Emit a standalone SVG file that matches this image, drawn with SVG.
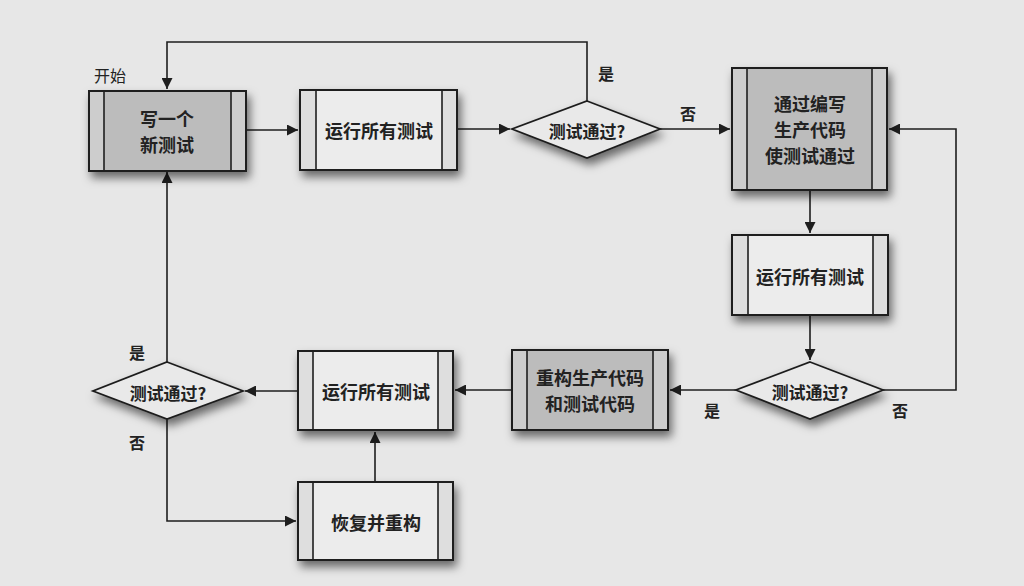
<svg xmlns="http://www.w3.org/2000/svg" width="1024" height="586" viewBox="0 0 1024 586">
<defs>
<style>
.t{font-family:"Noto Sans CJK SC","Liberation Sans",sans-serif;font-size:18px;font-weight:bold;fill:#222;text-anchor:middle;dominant-baseline:central}
.l{font-family:"Noto Sans CJK SC","Liberation Sans",sans-serif;font-size:16px;font-weight:bold;fill:#222;text-anchor:middle;dominant-baseline:central}
.box{stroke:#1e1e1e;stroke-width:2}
.dark{fill:#bcbcbc}
.darks{fill:#cdcdcd}
.light{fill:#ececec}
.lights{fill:#dedede}
.in{stroke:#1e1e1e;stroke-width:1.6}
.dia{fill:#e9e9e9;stroke:#1e1e1e;stroke-width:1.8}
.c{fill:none;stroke:#1e1e1e;stroke-width:1.6}
</style>
<filter id="sh" x="-20%" y="-20%" width="150%" height="160%">
<feDropShadow dx="3" dy="6" stdDeviation="5" flood-color="#000" flood-opacity="0.55"/>
</filter>
<marker id="a" viewBox="0 0 10 10" refX="10" refY="5" markerWidth="11" markerHeight="11" markerUnits="userSpaceOnUse" orient="auto">
<path d="M0,0 L10,5 L0,10 z" fill="#1e1e1e"/>
</marker>
</defs>
<rect width="1024" height="586" fill="#e7e7e7"/>

<g id="connectors">
<path class="c" d="M587,101 V42 H167 V89" marker-end="url(#a)"/>
<path class="c" d="M246,130 H298" marker-end="url(#a)"/>
<path class="c" d="M457,129 H510" marker-end="url(#a)"/>
<path class="c" d="M660,129 H730" marker-end="url(#a)"/>
<path class="c" d="M810,190 V233" marker-end="url(#a)"/>
<path class="c" d="M810,315 V360" marker-end="url(#a)"/>
<path class="c" d="M883,390 H956 V129 H889" marker-end="url(#a)"/>
<path class="c" d="M736,390 H670" marker-end="url(#a)"/>
<path class="c" d="M512,390 H455" marker-end="url(#a)"/>
<path class="c" d="M298,391 H245" marker-end="url(#a)"/>
<path class="c" d="M167,362 V172" marker-end="url(#a)"/>
<path class="c" d="M167,419 V521 H296" marker-end="url(#a)"/>
<path class="c" d="M375,482 V432" marker-end="url(#a)"/>
</g>

<g id="start-label"><text class="l" x="110" y="75" style="font-weight:normal">开始</text></g>

<g id="n1">
<rect x="89" y="91" width="157" height="80" class="box darks" filter="url(#sh)"/>
<rect x="104" y="91" width="127" height="80" class="dark"/>
<line x1="104" y1="91" x2="104" y2="171" class="in"/><line x1="231" y1="91" x2="231" y2="171" class="in"/>
<rect x="89" y="91" width="157" height="80" class="box" fill="none"/>
<text class="t" x="167" y="118">写一个</text><text class="t" x="167" y="144">新测试</text>
</g>

<g id="n2">
<rect x="300" y="90" width="157" height="80" class="box lights" filter="url(#sh)"/>
<rect x="316" y="90" width="126" height="80" class="light"/>
<line x1="316" y1="90" x2="316" y2="170" class="in"/><line x1="442" y1="90" x2="442" y2="170" class="in"/>
<rect x="300" y="90" width="157" height="80" class="box" fill="none"/>
<text class="t" x="379" y="130">运行所有测试</text>
</g>

<g id="d1">
<polygon points="587,101 660,129 587,158 512,129" class="dia" filter="url(#sh)"/>
<text class="t" x="587" y="130" style="font-size:17px">测试通过?</text>
<text class="l" x="606" y="73">是</text>
<text class="l" x="688" y="113">否</text>
</g>

<g id="n3">
<rect x="732" y="68" width="155" height="122" class="box darks" filter="url(#sh)"/>
<rect x="747" y="68" width="125" height="122" class="dark"/>
<line x1="747" y1="68" x2="747" y2="190" class="in"/><line x1="872" y1="68" x2="872" y2="190" class="in"/>
<rect x="732" y="68" width="155" height="122" class="box" fill="none"/>
<text class="t" x="810" y="103">通过编写</text><text class="t" x="810" y="129">生产代码</text><text class="t" x="810" y="155">使测试通过</text>
</g>

<g id="n4">
<rect x="732" y="235" width="156" height="80" class="box lights" filter="url(#sh)"/>
<rect x="748" y="235" width="125" height="80" class="light"/>
<line x1="748" y1="235" x2="748" y2="315" class="in"/><line x1="873" y1="235" x2="873" y2="315" class="in"/>
<rect x="732" y="235" width="156" height="80" class="box" fill="none"/>
<text class="t" x="810" y="276">运行所有测试</text>
</g>

<g id="d3">
<polygon points="810,362 883,390 810,419 736,390" class="dia" filter="url(#sh)"/>
<text class="t" x="810" y="391" style="font-size:17px">测试通过?</text>
<text class="l" x="712" y="410">是</text>
<text class="l" x="900" y="410">否</text>
</g>

<g id="n5">
<rect x="512" y="350" width="156" height="80" class="box darks" filter="url(#sh)"/>
<rect x="527" y="350" width="126" height="80" class="dark"/>
<line x1="527" y1="350" x2="527" y2="430" class="in"/><line x1="653" y1="350" x2="653" y2="430" class="in"/>
<rect x="512" y="350" width="156" height="80" class="box" fill="none"/>
<text class="t" x="590" y="377">重构生产代码</text><text class="t" x="590" y="403">和测试代码</text>
</g>

<g id="n6">
<rect x="298" y="351" width="155" height="79" class="box lights" filter="url(#sh)"/>
<rect x="313" y="351" width="125" height="79" class="light"/>
<line x1="313" y1="351" x2="313" y2="430" class="in"/><line x1="438" y1="351" x2="438" y2="430" class="in"/>
<rect x="298" y="351" width="155" height="79" class="box" fill="none"/>
<text class="t" x="376" y="391">运行所有测试</text>
</g>

<g id="d2">
<polygon points="167,362 243,391 167,419 93,391" class="dia" filter="url(#sh)"/>
<text class="t" x="168" y="392" style="font-size:17px">测试通过?</text>
<text class="l" x="137" y="352">是</text>
<text class="l" x="137" y="442">否</text>
</g>

<g id="n7">
<rect x="298" y="482" width="155" height="78" class="box lights" filter="url(#sh)"/>
<rect x="313" y="482" width="125" height="78" class="light"/>
<line x1="313" y1="482" x2="313" y2="560" class="in"/><line x1="438" y1="482" x2="438" y2="560" class="in"/>
<rect x="298" y="482" width="155" height="78" class="box" fill="none"/>
<text class="t" x="376" y="522">恢复并重构</text>
</g>
</svg>
